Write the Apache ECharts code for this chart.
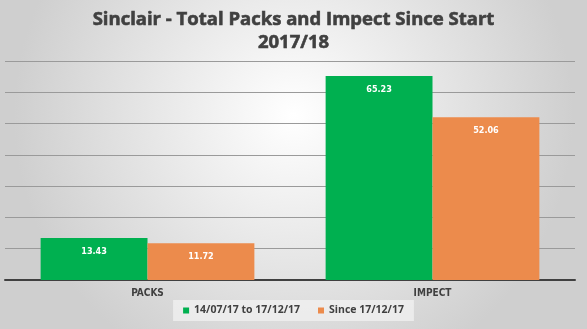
<!DOCTYPE html>
<html><head><meta charset="utf-8">
<script src="https://cdn.jsdelivr.net/npm/echarts@6/dist/echarts.min.js"></script>
<style>html,body{margin:0;padding:0;}#c{width:587px;height:329px;}</style>
</head><body><div id="c"></div>
<script>
const categories = ['PACKS', 'IMPECT'];
const seriesNames = ['14/07/17 to 17/12/17', 'Since 17/12/17'];
const firstPeriod = [13.43, 65.23];
const sincePeriod = [11.72, 52.06];
const titleLines = ['Sinclair - Total Packs and Impect Since Start', '2017/18'];

const chart = echarts.init(document.getElementById('c'));
const lbl = {show: true, position: 'insideTop', offset: [0, 4], color: '#fff', fontSize: 9, fontWeight: 'bold', fontFamily: 'Liberation Sans Narrow, DejaVu Sans Condensed, sans-serif', formatter: p => p.value.toFixed(2)};
chart.setOption({
  backgroundColor: {type: 'radial', x: 0.5, y: 0.35, r: 0.85, colorStops: [{offset: 0, color: '#ffffff'}, {offset: 1, color: '#cfcfcf'}]},
  title: {text: titleLines.join('\n'), left: 'center', top: 3, textStyle: {fontFamily: 'Open Sans, sans-serif', fontWeight: 'bold', fontSize: 18.5, lineHeight: 23, color: '#404040', textBorderColor: '#404040', textBorderWidth: 0.6}},
  legend: {bottom: 8, left: 'center', itemWidth: 6, itemHeight: 6, itemGap: 18, padding: [5, 10], backgroundColor: 'rgba(240,240,240,0.8)', icon: 'rect', textStyle: {fontFamily: 'Open Sans, sans-serif', fontWeight: 'bold', fontSize: 10.5, color: '#404040'}},
  grid: {left: 5, right: 12, top: 61, bottom: 49},
  xAxis: {type: 'category', data: categories, axisTick: {show: false}, axisLine: {lineStyle: {color: '#404040', width: 2}}, axisLabel: {color: '#404040', fontWeight: 'bold', fontSize: 10, fontFamily: 'Liberation Sans Narrow, DejaVu Sans Condensed, sans-serif', margin: 8}},
  yAxis: {type: 'value', min: 0, max: 70, interval: 10, axisLabel: {show: false}, axisLine: {show: false}, axisTick: {show: false}, splitLine: {lineStyle: {color: '#9a9a9a', width: 1}}},
  series: [
    {name: seriesNames[0], type: 'bar', data: firstPeriod, barGap: '0%', barCategoryGap: '25%', itemStyle: {color: '#00B050'}, label: lbl},
    {name: seriesNames[1], type: 'bar', data: sincePeriod, itemStyle: {color: '#EC8B4C'}, label: lbl}
  ]
});
</script></body></html>
